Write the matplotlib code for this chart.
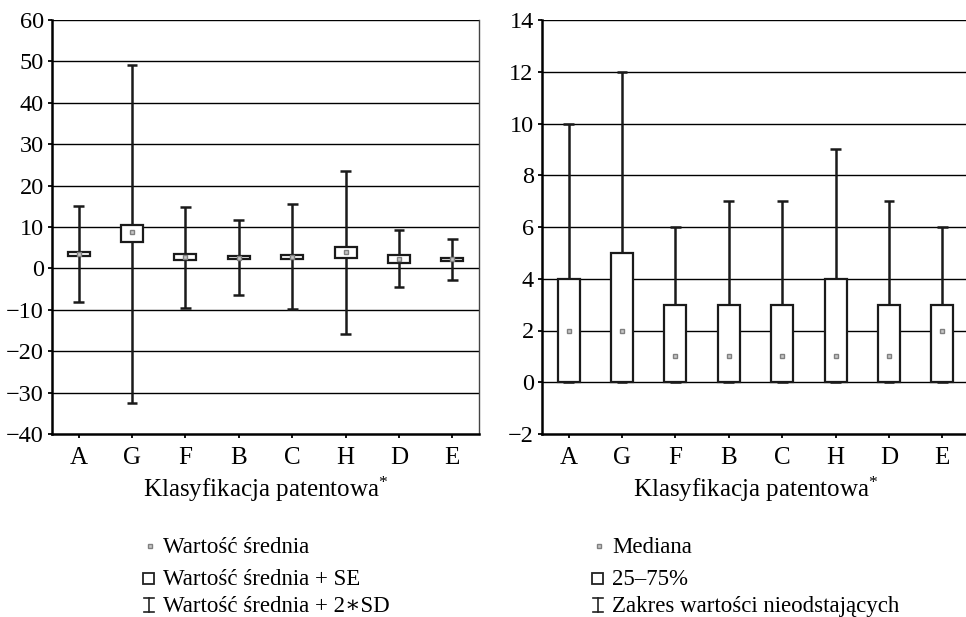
import matplotlib.pyplot as plt
from matplotlib.lines import Line2D
from matplotlib.patches import Rectangle

plt.rcParams['font.family'] = ['Liberation Serif', 'DejaVu Serif']
plt.rcParams['mathtext.fontset'] = 'custom'
plt.rcParams['mathtext.rm'] = 'Liberation Serif'
plt.rcParams['mathtext.it'] = 'Liberation Serif:italic'

cats = ['A', 'G', 'F', 'B', 'C', 'H', 'D', 'E']

# left panel: mean, mean +/- SE, mean +/- 2*SD
mean = [3.5, 8.7, 2.7, 2.5, 2.7, 3.9, 2.2, 2.2]
se_lo = [3.1, 6.3, 2.0, 2.2, 2.3, 2.6, 1.2, 1.9]
se_hi = [3.9, 10.4, 3.4, 3.0, 3.2, 5.1, 3.2, 2.6]
sd_lo = [-8.1, -32.4, -9.5, -6.5, -9.7, -15.9, -4.6, -2.7]
sd_hi = [15.1, 49.2, 14.9, 11.6, 15.5, 23.6, 9.2, 7.2]

# right panel: median, quartiles, non-outlier range
med = [2, 2, 1, 1, 1, 1, 1, 2]
q25 = [0, 0, 0, 0, 0, 0, 0, 0]
q75 = [4, 5, 3, 3, 3, 4, 3, 3]
rng_lo = [0, 0, 0, 0, 0, 0, 0, 0]
rng_hi = [10, 12, 6, 7, 7, 9, 7, 6]

W, H = 966, 617
fig = plt.figure(figsize=(W / 100, H / 100), dpi=100)


def px(x, y):
    return x / W, 1 - y / H


def draw_panel(ax, centre, lo, hi, blo, bhi, ylim, step):
    x = list(range(len(cats)))
    ax.set_ylim(*ylim)
    ax.set_xlim(-0.5, 7.5)
    for v in range(ylim[0] + step, ylim[1] + 1, step):
        ax.axhline(v, color='black', lw=1.0, zorder=1)
    ax.vlines(x, lo, hi, color='#1a1a1a', lw=1.8, zorder=2)
    ax.hlines(hi, [i - 0.1 for i in x], [i + 0.1 for i in x], color='#1a1a1a', lw=1.8, zorder=2)
    ax.hlines(lo, [i - 0.1 for i in x], [i + 0.1 for i in x], color='#1a1a1a', lw=1.8, zorder=2)
    ax.bar(x, [h - l for h, l in zip(bhi, blo)], bottom=blo, width=0.41,
           color='white', edgecolor='#1a1a1a', lw=1.6, zorder=3)
    ax.plot(x, centre, ls='none', marker='s', ms=3.5, mfc='#c8c8c8', mec='#808080',
            mew=1.0, zorder=4)
    ax.set_xticks(x)
    ax.set_xticklabels(cats)
    ax.set_yticks(range(ylim[0], ylim[1] + 1, step))
    ax.set_yticklabels([str(v).replace('-', '\u2212') for v in range(ylim[0], ylim[1] + 1, step)])
    ax.tick_params(axis='y', direction='out', length=3, width=1.3, pad=3, labelsize=17.5)
    ax.tick_params(axis='x', direction='out', length=3, width=1.3, pad=6, labelsize=18)
    ax.spines['top'].set_visible(False)
    ax.spines['left'].set_linewidth(1.8)
    ax.spines['bottom'].set_linewidth(1.8)
    ax.spines['right'].set_linewidth(1.0)
    ax.spines['right'].set_color('#444444')


ax1 = fig.add_axes([52 / W, 1 - 434 / H, 427 / W, 414 / H])
draw_panel(ax1, mean, sd_lo, sd_hi, se_lo, se_hi, (-40, 60), 10)

ax2 = fig.add_axes([542 / W, 1 - 434 / H, 427 / W, 414 / H])
draw_panel(ax2, med, rng_lo, rng_hi, q25, q75, (-2, 14), 2)
ax2.spines['right'].set_visible(False)

for cx in (266, 756):
    fig.text(*px(cx, 497), 'Klasyfikacja patentowa$^{*}$', ha='center', va='baseline', fontsize=18)


def legend(x0, labels):
    rows = [553, 585, 612]
    # centre marker
    fig.add_artist(Line2D([(x0 + 6) / W], [1 - (rows[0] - 7) / H], transform=fig.transFigure,
                          marker='s', ms=3.5, mfc='#c8c8c8', mec='#808080', ls='none'))
    # box
    fig.add_artist(Rectangle(px(x0 - 1, rows[1] - 1), 11 / W, 11 / H, transform=fig.transFigure,
                             fill=False, ec='#222222', lw=1.3))
    # whisker
    cx = x0 + 4.5
    y_top, y_bot = rows[2] - 14, rows[2]
    fig.add_artist(Line2D([cx / W, cx / W], [1 - y_top / H, 1 - y_bot / H],
                          transform=fig.transFigure, color='#222222', lw=1.2))
    for yy in (y_top, y_bot):
        fig.add_artist(Line2D([(cx - 5) / W, (cx + 5) / W], [1 - yy / H, 1 - yy / H],
                              transform=fig.transFigure, color='#222222', lw=1.2))
    for r, lab in zip(rows, labels):
        fig.text(*px(x0 + 19, r), lab, ha='left', va='baseline', fontsize=16.5)


legend(144, ['Wartość średnia', 'Wartość średnia + SE', 'Wartość średnia + 2\u2217SD'])
legend(593, ['Mediana', '25–75%', 'Zakres wartości nieodstających'])

fig.savefig('out.png', dpi=100)
